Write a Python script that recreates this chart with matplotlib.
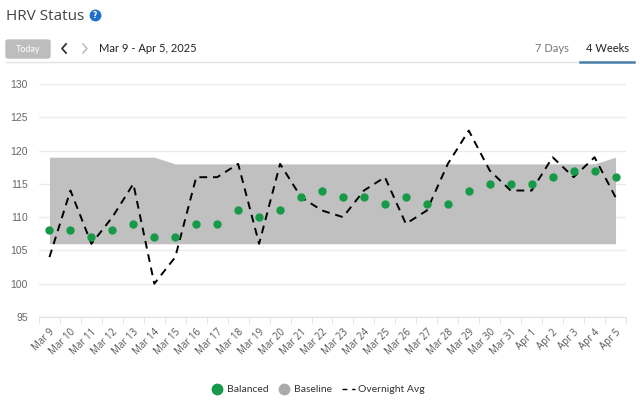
import matplotlib
matplotlib.use("Agg")
import matplotlib.pyplot as plt
from matplotlib.lines import Line2D
from matplotlib.patches import FancyBboxPatch
import numpy as np

dates = ["Mar 9", "Mar 10", "Mar 11", "Mar 12", "Mar 13", "Mar 14", "Mar 15",
         "Mar 16", "Mar 17", "Mar 18", "Mar 19", "Mar 20", "Mar 21", "Mar 22",
         "Mar 23", "Mar 24", "Mar 25", "Mar 26", "Mar 27", "Mar 28", "Mar 29",
         "Mar 30", "Mar 31", "Apr 1", "Apr 2", "Apr 3", "Apr 4", "Apr 5"]
balanced = [108, 108, 107, 108, 109, 107, 107, 109, 109, 111, 110, 111, 113, 114,
            113, 113, 112, 113, 112, 112, 114, 115, 115, 115, 116, 117, 117, 116]
overnight = [104, 114, 106, 110, 115, 100, 104, 116, 116, 118, 106, 118, 113, 111,
             110, 114, 116, 109, 111, 118, 123, 117, 114, 114, 119, 116, 119, 113]
baseline_low = [106] * 28
baseline_high = [119, 119, 119, 119, 119, 119, 118, 118, 118, 118, 118, 118, 118, 118,
                 118, 118, 118, 118, 118, 118, 118, 118, 118, 118, 118, 118, 118, 119]
yticks = [95, 100, 105, 110, 115, 120, 125, 130]
legend_labels = ["Balanced", "Baseline", "Overnight Avg"]

GREEN = "#169a48"
GRAY = "#c0c0c0"

W, H = 640, 403
fig = plt.figure(figsize=(W / 100, H / 100), dpi=100)

def fx(px):
    return px / W

def fy(py):
    return 1 - py / H

ax = fig.add_axes([fx(39), fy(317), fx(626) - fx(39), fy(84) - fy(317)])
x = np.arange(len(dates))

ax.fill_between(x, baseline_low, baseline_high, color=GRAY, lw=0, zorder=1)
ax.plot(x, overnight, color="black", lw=1.4, ls=(0, (4, 3)), zorder=2)
ax.plot(x, balanced, ls="none", marker="o", ms=5, color=GREEN, mec=GREEN, zorder=3)

ax.set_xlim(-0.5, len(dates) - 0.5)
ax.set_ylim(95, 130)
ax.set_yticks(yticks)
ax.grid(axis="y", color="#ebebeb", lw=1, zorder=0)
ax.set_axisbelow(True)
for s in ["top", "right", "left"]:
    ax.spines[s].set_visible(False)
ax.spines["bottom"].set_color("#e0e0e0")
ax.tick_params(axis="y", length=0, pad=8, labelsize=7.5, labelcolor="#666666")
for lab in ax.get_yticklabels():
    lab.set_fontfamily("Liberation Sans")

ax.set_xticks(x)
ax.set_xticklabels(dates, rotation=45, ha="right", rotation_mode="anchor",
                   fontsize=7, color="#555555", fontfamily="Open Sans")
ax.tick_params(axis="x", which="major", length=0, pad=7)
ax.set_xticks(np.arange(-0.5, len(dates), 1), minor=True)
ax.tick_params(axis="x", which="minor", length=5, color="#e0e0e0")

# Header
fig.text(fx(6), fy(17), "HRV Status", fontsize=11, color="#444444",
         fontfamily="Open Sans", va="center", ha="left")
fig.add_artist(Line2D([fx(95)], [fy(15)], ls="none", marker="o", ms=7.5,
                      color="#1f6fc8"))
fig.text(fx(95), fy(15.5), "?", fontsize=5.5, color="white", fontweight="bold",
         ha="center", va="center", zorder=6)

fig.patches.append(FancyBboxPatch((fx(6), fy(58)), fx(44), fy(40) - fy(58),
                                  boxstyle="round,pad=0,rounding_size=0.004",
                                  transform=fig.transFigure, color="#bdbdbd"))
fig.text(fx(28), fy(49), "Today", fontsize=6.5, color="white", ha="center",
         va="center", fontfamily="Lato")
# chevrons
fig.add_artist(Line2D([fx(66), fx(62), fx(66)], [fy(44), fy(48.5), fy(53)],
                      color="#333333", lw=1.3))
fig.add_artist(Line2D([fx(83), fx(87), fx(83)], [fy(44), fy(48.5), fy(53)],
                      color="#bbbbbb", lw=1.1))
fig.text(fx(99), fy(49), "Mar 9 - Apr 5, 2025", fontsize=8, color="#222222",
         ha="left", va="center", fontfamily="Lato")
fig.text(fx(552), fy(49), "7 Days", fontsize=8, color="#777777",
         ha="center", va="center", fontfamily="Lato")
fig.text(fx(607), fy(49), "4 Weeks", fontsize=8, color="#222222",
         ha="center", va="center", fontfamily="Lato")
fig.add_artist(Line2D([fx(6), fx(634)], [fy(62), fy(62)], color="#e3e3e3", lw=1))
fig.add_artist(Line2D([fx(580), fx(634)], [fy(61.5), fy(61.5)], color="#4a7fa8", lw=1.8))

# Legend (drawn manually)
LY = 389
fig.add_artist(Line2D([fx(217)], [fy(LY)], ls="none", marker="o", ms=7.5, color=GREEN))
fig.text(fx(227), fy(LY), legend_labels[0], fontsize=7.5, color="#333333",
         ha="left", va="center", fontfamily="Lato")
fig.add_artist(Line2D([fx(284)], [fy(LY)], ls="none", marker="o", ms=7.5, color="#aaaaaa"))
fig.text(fx(294), fy(LY), legend_labels[1], fontsize=7.5, color="#333333",
         ha="left", va="center", fontfamily="Lato")
fig.add_artist(Line2D([fx(342), fx(355)], [fy(LY), fy(LY)], color="black", lw=1,
                      ls=(0, (3.5, 3.5))))
fig.text(fx(358), fy(LY), legend_labels[2], fontsize=7.5, color="#333333",
         ha="left", va="center", fontfamily="Lato")

fig.savefig("out.png", dpi=100)
